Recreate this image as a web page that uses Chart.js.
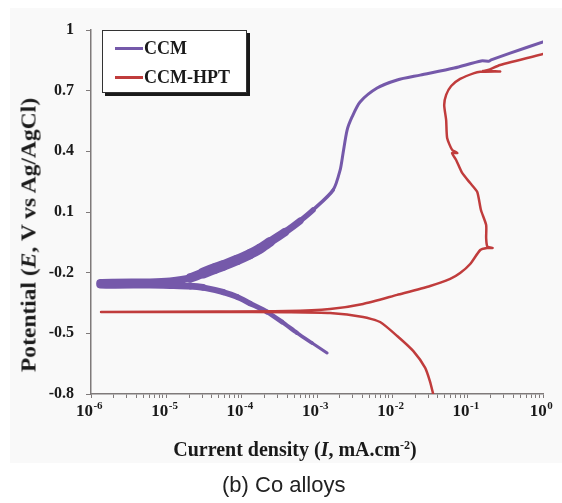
<!DOCTYPE html>
<html>
<head>
<meta charset="utf-8">
<script src="https://cdn.jsdelivr.net/npm/chart.js@4.4.1/dist/chart.umd.min.js"></script>
<style>
  body { margin: 0; width: 562px; height: 503px; background: #fff; position: relative; overflow: hidden; }
  #panel { position: absolute; left: 10px; top: 8px; width: 552px; height: 455px; background: #f9f9f9; }
  #chart { position: absolute; left: 0; top: 0; }
  .serif { font-family: "Liberation Serif", "Times New Roman", serif; font-weight: bold; color: #1a1a1a; }
  #legend { position: absolute; left: 102px; top: 30px; width: 143px; height: 61px; background: #fff;
            border: 1px solid #333; box-shadow: 3px 3px 0 #1a1a1a; }
  #legend .item { position: absolute; left: 12px; font-size: 18px; line-height: 18px; white-space: nowrap; }
  #legend .swatch { display: inline-block; width: 28px; height: 3px; vertical-align: middle; margin-right: 1px; position: relative; top: -1px; }
  #ytitle { position: absolute; left: 29px; top: 235px; font-size: 21px; white-space: nowrap;
            transform: translate(-50%, -50%) rotate(-90deg) scaleX(1.12); }
  #xtitle { position: absolute; left: 295px; top: 439px; font-size: 20px; white-space: nowrap; transform: translateX(-50%); line-height: 1; }
  sup { font-size: 60%; vertical-align: 0; position: relative; top: -0.55em; }
  #caption { position: absolute; left: 222px; top: 474px; font-family: "Liberation Sans", Arial, sans-serif; font-size: 22px; color: #222; line-height: 1; }
</style>
</head>
<body>
<div id="panel"></div>
<canvas id="chart" width="562" height="465"></canvas>
<div id="legend" class="serif">
  <div class="item" style="top: 8px;"><span class="swatch" style="background:#7559aa"></span>CCM</div>
  <div class="item" style="top: 37px;"><span class="swatch" style="background:#c03c3c"></span>CCM-HPT</div>
</div>
<div id="ytitle" class="serif">Potential (<i>E</i>, V vs Ag/AgCl)</div>
<div id="xtitle" class="serif">Current density (<i>I</i>, mA.cm<sup>-2</sup>)</div>
<div id="caption">(b) Co alloys</div>
<script>
// CCM: cathodic branch (high current -> Ecorr) then anodic branch
const ccmCurrent = [1.36e-3, 8.61e-4, 5.44e-4, 3.44e-4, 2.17e-4, 1.29e-4, 8.69e-5, 5.66e-5, 3.07e-5, 2.07e-5, 1.12e-5, 6.07e-6, 1.32e-6,
  1.32e-6, 6.07e-6, 1.12e-5, 2.07e-5, 3.07e-5, 4.43e-5, 5.66e-5, 8.69e-5, 1.29e-4, 1.755e-4, 2.38e-4, 3.77e-4, 5.97e-4, 8.87e-4,
  1.64e-3, 2.03e-3, 2.22e-3, 2.51e-3, 2.92e-3, 3.73e-3, 6.28e-3, 1.16e-2, 2.34e-2, 6.62e-2, 0.151, 0.19, 0.205, 0.366, 1.0];
const ccmPotential = [-0.597, -0.548, -0.498, -0.444, -0.394, -0.352, -0.320, -0.296, -0.273, -0.266, -0.263, -0.261, -0.261,
  -0.249, -0.246, -0.241, -0.226, -0.202, -0.179, -0.165, -0.137, -0.108, -0.081, -0.048, 0.001, 0.056, 0.110,
  0.209, 0.308, 0.392, 0.505, 0.570, 0.644, 0.713, 0.753, 0.777, 0.812, 0.847, 0.846, 0.852, 0.886, 0.941];

// CCM-HPT: cathodic branch from the bottom up to Ecorr, then anodic branch
const hptCurrent = [3.48e-2, 3.18e-2, 2.73e-2, 1.89e-2, 1.16e-2, 6.88e-3, 4.09e-3, 1.49e-3, 4e-4, 5e-5, 1.36e-6,
  5e-5, 4e-4, 1.49e-3, 4.09e-3, 1.16e-2, 3.18e-2, 5.86e-2, 7.94e-2, 0.108, 0.147, 0.18, 0.215, 0.182, 0.176,
  0.176, 0.15, 0.134, 0.108, 8.45e-2, 7.03e-2, 6.2e-2, 7.3e-2, 6.22e-2, 5.34e-2, 5.18e-2, 4.88e-2, 5.18e-2,
  6.04e-2, 7.94e-2, 0.122, 0.147, 0.27, 0.16, 0.187, 0.27, 1.0];
const hptPotential = [-0.800, -0.741, -0.671, -0.587, -0.513, -0.444, -0.419, -0.400, -0.396, -0.394, -0.394,
  -0.392, -0.390, -0.380, -0.355, -0.310, -0.266, -0.231, -0.202, -0.157, -0.088, -0.078, -0.078, -0.070, -0.029,
  0.036, 0.110, 0.199, 0.243, 0.293, 0.357, 0.392, 0.392, 0.407, 0.466, 0.555, 0.629, 0.679,
  0.723, 0.758, 0.787, 0.793, 0.795, 0.797, 0.802, 0.827, 0.881];

const xDecades = [1e-6, 1e-5, 1e-4, 1e-3, 1e-2, 1e-1, 1];
const xTickExponents = ['-6', '-5', '-4', '-3', '-2', '-1', '0'];
const xMinorSteps = [2, 3, 4, 5, 6, 7, 8, 9];
const yTickValues = [-0.8, -0.5, -0.2, 0.1, 0.4, 0.7, 1];
const yTickLabels = ['-0.8', '-0.5', '-0.2', '0.1', '0.4', '0.7', '1'];

const purple = '#7559aa';
const red = '#c03c3c';
const axisColor = '#7f7a7a';
const serif = '"Liberation Serif", "Times New Roman", serif';

// band thickness of the CCM trace (px) against log10 of current
const ccmAnodicWidth = [[-6, 7], [-4.75, 7], [-4.5, 11], [-3.7, 10], [-3.45, 8], [-3.2, 6], [-3.0, 4], [-2.8, 3]];
const ccmCathodicWidth = [[-6, 7], [-4.7, 7], [-4.3, 6], [-3.9, 5.5], [-3.3, 4], [-2.9, 3]];

const toPoints = (xs, ys) => xs.map((x, i) => ({ x, y: ys[i] }));

const lerpWidth = (table, lx) => {
  if (lx <= table[0][0]) return table[0][1];
  for (let i = 1; i < table.length; i++) {
    if (lx <= table[i][0]) {
      const [x0, w0] = table[i - 1];
      const [x1, w1] = table[i];
      return w0 + (w1 - w0) * (lx - x0) / (x1 - x0);
    }
  }
  return table[table.length - 1][1];
};

const ccmWidth = (ctx) => {
  const lx = (Math.log10(ctx.p0.parsed.x) + Math.log10(ctx.p1.parsed.x)) / 2;
  const cathodic = Math.min(ctx.p0.parsed.y, ctx.p1.parsed.y) < -0.255;
  return lerpWidth(cathodic ? ccmCathodicWidth : ccmAnodicWidth, lx);
};

const xTicks = [];
xDecades.forEach((d, i) => {
  xTicks.push({ value: d, major: true });
  if (i < xDecades.length - 1) xMinorSteps.forEach((k) => xTicks.push({ value: k * d, major: false }));
});

// decade labels with a real superscript exponent
const decadeLabels = {
  id: 'decadeLabels',
  afterDraw(chart) {
    const { ctx } = chart;
    const xScale = chart.scales.x;
    const baseY = xScale.top + 22;
    ctx.save();
    ctx.fillStyle = '#1a1a1a';
    ctx.textBaseline = 'alphabetic';
    xDecades.forEach((d, i) => {
      const px = xScale.getPixelForValue(d);
      ctx.font = `bold 17px ${serif}`;
      const wb = ctx.measureText('10').width;
      ctx.font = `bold 11px ${serif}`;
      const we = ctx.measureText(xTickExponents[i]).width;
      const left = px - (wb + we) / 2 - 2;
      ctx.font = `bold 17px ${serif}`;
      ctx.fillText('10', left, baseY);
      ctx.font = `bold 11px ${serif}`;
      ctx.fillText(xTickExponents[i], left + wb + 0.5, baseY - 7);
    });
    ctx.restore();
  },
};

new Chart(document.getElementById('chart'), {
  type: 'scatter',
  data: {
    datasets: [
      {
        label: 'CCM-HPT',
        data: toPoints(hptCurrent, hptPotential),
        showLine: true,
        borderColor: red,
        borderWidth: 2.5,
        pointRadius: 0,
        tension: 0.2,
        borderJoinStyle: 'round',
        borderCapStyle: 'round',
      },
      {
        label: 'CCM',
        data: toPoints(ccmCurrent, ccmPotential),
        showLine: true,
        borderColor: purple,
        borderWidth: 3,
        pointRadius: 0,
        tension: 0.25,
        borderJoinStyle: 'round',
        borderCapStyle: 'round',
        segment: { borderWidth: ccmWidth },
      },
    ],
  },
  options: {
    responsive: false,
    animation: false,
    devicePixelRatio: 1,
    layout: { padding: { left: 0, top: 30, right: 19, bottom: 0 } },
    plugins: { legend: { display: false }, tooltip: { enabled: false } },
    scales: {
      x: {
        type: 'logarithmic',
        min: 1e-6,
        max: 1,
        afterBuildTicks: (scale) => { scale.ticks = xTicks.map((t) => ({ ...t })); },
        afterFit: (scale) => { scale.height = 71; },
        border: { display: true, color: axisColor, width: 1.5 },
        grid: { drawOnChartArea: false, drawTicks: true, tickLength: 4, color: axisColor, lineWidth: 1 },
        ticks: { autoSkip: false, maxRotation: 0, callback: () => '' },
      },
      y: {
        type: 'linear',
        min: -0.8,
        max: 1,
        afterBuildTicks: (scale) => { scale.ticks = yTickValues.map((v) => ({ value: v })); },
        afterFit: (scale) => { scale.width = 91; },
        border: { display: true, color: axisColor, width: 1.5 },
        grid: { drawOnChartArea: false, drawTicks: true, tickLength: 5, color: axisColor, lineWidth: 1 },
        ticks: {
          padding: 12,
          color: '#1a1a1a',
          font: { family: serif, weight: 'bold', size: 16 },
          callback: (value) => {
            const i = yTickValues.findIndex((v) => Math.abs(v - value) < 1e-9);
            return i >= 0 ? yTickLabels[i] : '';
          },
        },
      },
    },
  },
  plugins: [decadeLabels],
});
</script>
</body>
</html>
